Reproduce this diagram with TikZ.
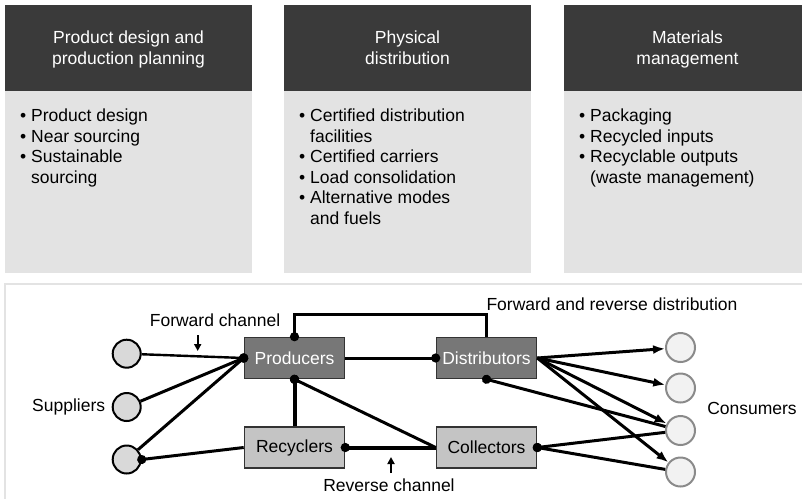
\documentclass[tikz,border=0pt]{standalone}
\usepackage{fontspec}
\setmainfont{Liberation Sans}
\usetikzlibrary{arrows.meta,positioning}

\definecolor{headgray}{HTML}{3A3A3A}
\definecolor{bodygray}{HTML}{E3E3E3}
\definecolor{darkbox}{HTML}{777777}
\definecolor{lightbox}{HTML}{C4C4C4}
\definecolor{supfill}{HTML}{D9D9D9}
\definecolor{confill}{HTML}{F2F2F2}
\definecolor{conline}{HTML}{8A8A8A}

\newcommand{\bul}{\textbullet\ }
\newcommand{\bulind}{\phantom{\textbullet\ }}

\tikzset{
  txt/.style={font=\fontsize{17.5}{20.5}\selectfont},
  head/.style={txt, text=white, align=center, anchor=north, inner sep=0pt},
  items/.style={txt, align=left, anchor=north west, inner sep=0pt},
  stage/.style={txt, draw=black!80, line width=1.6pt, minimum width=100pt, minimum height=41pt, inner sep=0pt},
  supplier/.style={draw=black, circle, line width=2pt, fill=supfill, minimum size=28pt, inner sep=0pt},
  consumer/.style={draw=conline, circle, line width=2pt, fill=confill, minimum size=29pt, inner sep=0pt},
  flow/.style={line width=3pt},
  heavy/.style={line width=4pt},
  dot/.style={-{Circle[length=9pt]}, shorten >=-4.5pt},
  arrow/.style={-{Latex[length=12pt,width=9pt]}},
  hint/.style={line width=2pt, -{Triangle[length=7pt,width=7pt]}}
}

\begin{document}
\begin{tikzpicture}[x=1pt,y=-1pt]
\clip (0,0) rectangle (802,498);

% the three panels
\foreach \x in {5,284,564}{
  \fill[headgray] (\x,5) rectangle ++(247,86);
  \fill[bodygray] (\x,91) rectangle ++(247,182);
}
\node[head] (H1) at (128.5,31) {Product design and\\production planning};
\node[head] (H2) at (407.5,31) {Physical\\distribution};
\node[head] (H3) at (687.5,31) {Materials\\management};

\node[items] (B1) at (20,109) {\bul Product design\\\bul Near sourcing\\\bul Sustainable\\\bulind sourcing};
\node[items] (B2) at (299,109) {\bul Certified distribution\\\bulind facilities\\\bul Certified carriers\\\bul Load consolidation\\\bul Alternative modes\\\bulind and fuels};
\node[items] (B3) at (579,109) {\bul Packaging\\\bul Recycled inputs\\\bul Recyclable outputs\\\bulind (waste management)};

% supply chain
\draw[bodygray, line width=2.5pt] (5,284) rectangle (830,530);

\node[supplier] (S1) at (126.7,353.7) {};
\node[supplier] (S2) at (126.7,407) {};
\node[supplier] (S3) at (126.7,459.5) {};
\node[txt, left=3pt of S2] (SL) {Suppliers};

\node[stage, fill=darkbox, text=white] (P) at (294.5,358) {Producers};
\node[stage, fill=darkbox, text=white] (D) at (486.5,358) {Distributors};
\node[stage, fill=lightbox] (R) at (294.5,447.5) {Recyclers};
\node[stage, fill=lightbox] (Co) at (486.5,447.5) {Collectors};

\node[consumer] (C1) at (680.5,347.5) {};
\node[consumer] (C2) at (680.5,388) {};
\node[consumer] (C3) at (680.5,430.5) {};
\node[consumer] (C4) at (680.5,472) {};
\node[txt] (CL) at (752,408) {Consumers};

\node[txt] (FC) at (215,320) {Forward channel};
\node[txt] (FRD) at (612,304) {Forward and reverse distribution};
\node[txt] (RC) at (389,485) {Reverse channel};

\draw[flow, line width=2.4pt, dot] (S1) -- (P.west);
\draw[flow, dot] (S2) -- (P.west);
\draw[flow, dot] (S3) -- (P.west);
\draw[flow, dot] (R.west) -- (S3.east);

\draw[flow, dot] (P.east) -- (D.west);
\draw[flow, dot] (D.north) -- ++(0,-22) -| (P.north);
\draw[heavy, dot] (R.north) -- (P.south);
\draw[flow, dot] (Co.west) -- (P.south);
\draw[heavy, dot] (Co.west) -- (R.east);

\draw[flow, arrow] (D.east) -- (C1);
\draw[flow, arrow] (D.east) -- (C2);
\draw[flow, arrow] (D.east) -- (C3);
\draw[flow, arrow] (D.east) -- (C4);
\draw[flow, dot] (C3) -- (D.south);
\draw[flow, dot] (C3) -- (Co.east);
\draw[flow, dot] (C4) -- (Co.east);

% channel markers
\coordinate (fc) at (197.7,351);
\coordinate (rc) at (391,457);
\draw[hint] ([yshift=16pt]fc) -- (fc);
\draw[hint] ([yshift=-16pt]rc) -- (rc);
\end{tikzpicture}
\end{document}
